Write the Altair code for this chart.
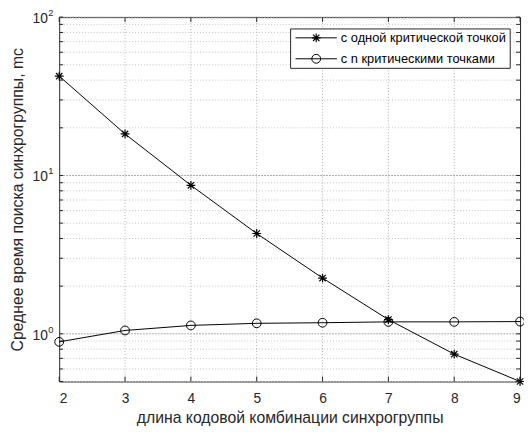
import altair as alt
import pandas as pd

# ---- data ----
x_vals = [2, 3, 4, 5, 6, 7, 8, 9]
single_vals = [42.4, 18.3, 8.67, 4.30, 2.25, 1.23, 0.744, 0.50]
multi_vals = [0.89, 1.05, 1.13, 1.165, 1.175, 1.19, 1.19, 1.195]
legend_labels = ["с одной критической точкой", "с n критическими точками"]
x_title = "длина кодовой комбинации синхрогруппы"
y_title = "Среднее время поиска синхрогруппы, mc"
decades = [1, 10, 100]
decade_base = ["10", "10", "10"]
decade_exp = ["0", "1", "2"]
minor_y = [0.5, 0.6, 0.7, 0.8, 0.9, 2, 3, 4, 5, 6, 7, 8, 9,
           20, 30, 40, 50, 60, 70, 80, 90]
x_grid = [3, 4, 5, 6, 7, 8]

W, H = 468, 370
FONT = "Liberation Sans"
INK = "#262626"
ASTERISK = "M-1,0L1,0M0,-1L0,1M-0.72,-0.72L0.72,0.72M-0.72,0.72L0.72,-0.72"

xscale = alt.Scale(domain=[2, 9], nice=False)
yscale = alt.Scale(type="log", domain=[0.5, 100], nice=False)

df_single = pd.DataFrame({"x": x_vals, "y": single_vals})
df_multi = pd.DataFrame({"x": x_vals, "y": multi_vals})
df_minor = pd.DataFrame({"y": minor_y})
df_major = pd.DataFrame({"y": decades, "base": decade_base, "exp": decade_exp})
df_xgrid = pd.DataFrame({"x": x_grid})
df_xt = pd.DataFrame({"x": x_vals})
df_yt = pd.DataFrame({"y": minor_y + decades})

X = alt.X(
    "x:Q", scale=xscale,
    axis=alt.Axis(values=x_vals, format="d", title=x_title, grid=False, ticks=False,
                  domain=False, labelFontSize=14, labelFont=FONT, labelColor=INK,
                  labelPadding=10, titleFontSize=16, titleFont=FONT, titleColor=INK,
                  titleFontWeight="normal", titleBaseline="alphabetic",
                  titleY=42, titleX=W / 2, titleAlign="center"),
)
Y = alt.Y(
    "y:Q", scale=yscale,
    axis=alt.Axis(values=decades, labels=False, ticks=False, domain=False, grid=False,
                  title=y_title, titleFontSize=16, titleFont=FONT, titleColor=INK,
                  titleFontWeight="normal", titleX=-37, titleY=H / 2,
                  titleAngle=270, titleBaseline="alphabetic", titleAlign="center"),
)

# grid
g_minor = alt.Chart(df_minor).mark_rule(color="#c4c4c4", strokeWidth=1, strokeDash=[1, 2]).encode(y=Y)
g_major = alt.Chart(df_major).mark_rule(color="#a8a8a8", strokeWidth=1, strokeDash=[2, 1]).encode(y=Y)
g_x = alt.Chart(df_xgrid).mark_rule(color="#b0b0b0", strokeWidth=1, strokeDash=[1, 2]).encode(x=X)

# inward ticks
t_left = alt.Chart(df_yt).mark_rule(color=INK).encode(y=Y, x=alt.value(0), x2=alt.value(4))
t_right = alt.Chart(df_yt).mark_rule(color=INK).encode(y=Y, x=alt.value(W - 4), x2=alt.value(W))
t_bot = alt.Chart(df_xt).mark_rule(color=INK).encode(x=X, y=alt.value(H - 5), y2=alt.value(H))
t_top = alt.Chart(df_xt).mark_rule(color=INK).encode(x=X, y=alt.value(0), y2=alt.value(5))

# y tick labels with superscripts
lab_base = alt.Chart(df_major).mark_text(
    align="right", baseline="middle", fontSize=14, font=FONT, color=INK, dy=2
).encode(y=Y, x=alt.value(-11.5), text="base:N")
lab_exp = alt.Chart(df_major).mark_text(
    align="left", baseline="middle", fontSize=9.5, font=FONT, color=INK, dy=-4
).encode(y=Y, x=alt.value(-11), text="exp:N")

# series
l_single = alt.Chart(df_single).mark_line(color="black", strokeWidth=1).encode(x=X, y=Y)
p_single = alt.Chart(df_single).mark_point(
    shape=ASTERISK, size=80, color="black", strokeWidth=1.2, filled=False, opacity=1
).encode(x=X, y=Y)
l_multi = alt.Chart(df_multi).mark_line(color="black", strokeWidth=1).encode(x=X, y=Y)
p_multi = alt.Chart(df_multi).mark_point(
    shape="circle", size=80, color="black", strokeWidth=1, filled=False, opacity=1
).encode(x=X, y=Y)

# legend
one = pd.DataFrame({"k": [0]})
leg_box = alt.Chart(one).mark_rect(fill="white", stroke=INK, strokeWidth=1).encode(
    x=alt.value(235), x2=alt.value(458), y=alt.value(12), y2=alt.value(52))
rows_y = [21, 42.3]
leg_layers = [leg_box]
for i, (lab, shp) in enumerate(zip(legend_labels, [ASTERISK, "circle"])):
    d = pd.DataFrame({"label": [lab]})
    leg_layers.append(alt.Chart(d).mark_rule(color="black", strokeWidth=1).encode(
        x=alt.value(240), x2=alt.value(282), y=alt.value(rows_y[i])))
    leg_layers.append(alt.Chart(d).mark_point(
        shape=shp, size=80, color="black", strokeWidth=1.2 if i == 0 else 1,
        filled=False, opacity=1).encode(x=alt.value(261), y=alt.value(rows_y[i])))
    leg_layers.append(alt.Chart(d).mark_text(
        align="left", baseline="middle", fontSize=13, font=FONT, color="black"
    ).encode(x=alt.value(286), y=alt.value(rows_y[i]), text="label:N"))

chart = alt.layer(
    g_minor, g_major, g_x, l_single, l_multi, p_single, p_multi,
    t_left, t_right, t_bot, t_top, lab_base, lab_exp, *leg_layers
).properties(
    width=W, height=H,
    autosize=alt.AutoSizeParams(type="none"),
    padding={"left": 52, "top": 6, "right": 4, "bottom": 47},
).configure_view(stroke=INK, strokeWidth=1)

chart.save("out.html", embed_options={"renderer": "svg", "actions": False})
